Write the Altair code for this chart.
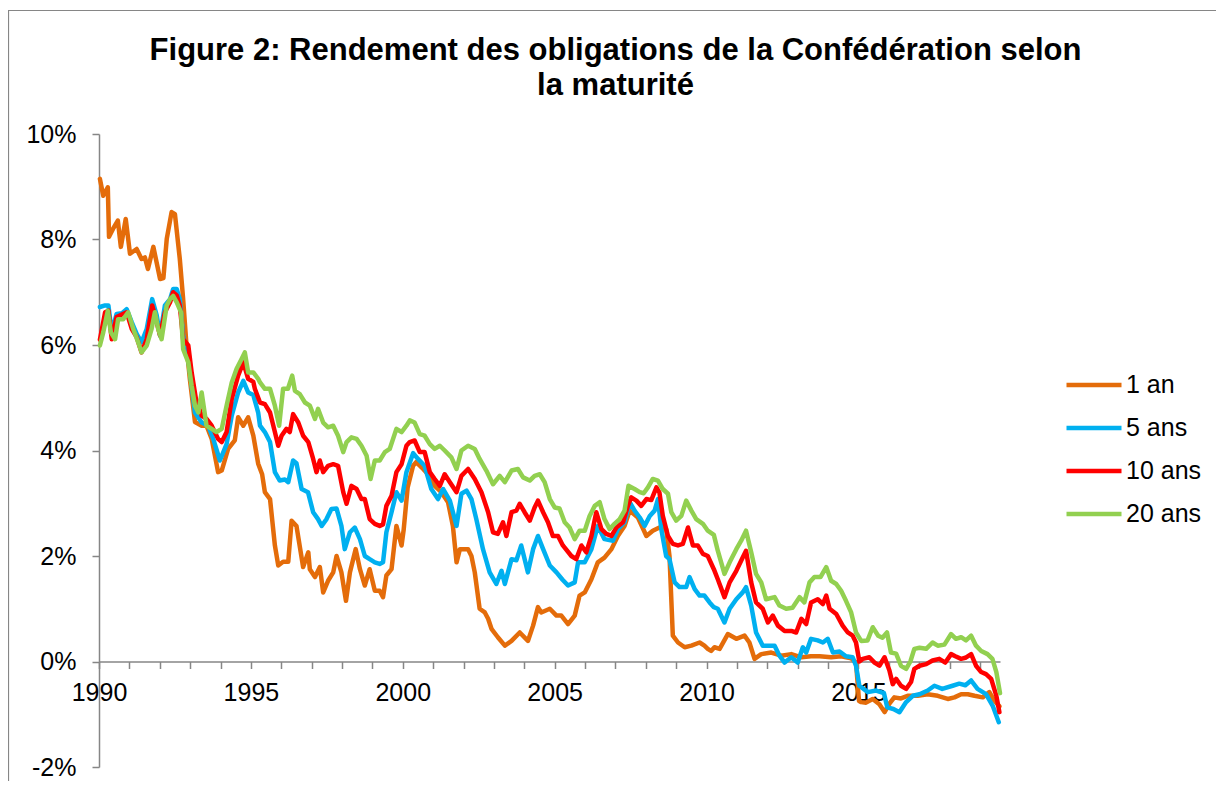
import altair as alt
import pandas as pd

# ---- data (decimal year, yield in %) ----
t_1an = [1990.03,1990.14,1990.29,1990.33,1990.46,1990.62,1990.72,1990.88,1991.02,1991.24,1991.40,1991.51,1991.61,1991.79,1992.01,1992.12,1992.23,1992.39,1992.50,1992.66,1992.77,1992.88,1992.99,1993.16,1993.38,1993.54,1993.71,1993.92,1994.04,1994.25,1994.47,1994.58,1994.75,1994.91,1995.08,1995.24,1995.37,1995.46,1995.63,1995.79,1995.90,1996.06,1996.23,1996.34,1996.50,1996.72,1996.89,1996.94,1997.11,1997.27,1997.38,1997.54,1997.71,1997.82,1997.98,1998.13,1998.26,1998.45,1998.59,1998.75,1998.91,1999.08,1999.24,1999.35,1999.46,1999.63,1999.79,1999.96,2000.03,2000.16,2000.34,2000.44,2000.67,2000.83,2001.05,2001.27,2001.49,2001.65,2001.77,2001.88,2002.15,2002.26,2002.37,2002.53,2002.70,2002.81,2002.92,2003.13,2003.36,2003.58,2003.85,2004.12,2004.29,2004.45,2004.56,2004.84,2005.06,2005.22,2005.44,2005.66,2005.82,2005.99,2006.21,2006.42,2006.64,2006.87,2007.08,2007.30,2007.47,2007.74,2008.02,2008.23,2008.45,2008.67,2008.78,2008.89,2009.06,2009.28,2009.50,2009.77,2009.93,2010.04,2010.15,2010.26,2010.43,2010.70,2010.98,2011.25,2011.41,2011.58,2011.80,2012.13,2012.46,2012.79,2013.12,2013.44,2013.72,2014.10,2014.43,2014.76,2014.92,2015.02,2015.09,2015.25,2015.47,2015.69,2015.86,2016.02,2016.18,2016.40,2016.62,2016.95,2017.28,2017.61,2017.94,2018.16,2018.38,2018.60,2018.82,2019.09,2019.31,2019.47,2019.64]
v_1an = [9.15,8.83,8.99,8.05,8.20,8.36,7.86,8.39,7.73,7.82,7.63,7.66,7.44,7.86,7.25,7.27,8.01,8.52,8.48,7.63,6.87,5.99,5.36,4.54,4.47,4.47,4.22,3.59,3.62,4.03,4.19,4.63,4.47,4.63,4.28,3.75,3.55,3.21,3.08,2.20,1.82,1.89,1.89,2.67,2.57,1.79,2.07,1.75,1.60,1.79,1.31,1.53,1.69,2.00,1.69,1.15,1.69,2.13,1.75,1.44,1.75,1.34,1.34,1.22,1.63,1.75,2.57,2.20,2.50,3.30,3.71,3.78,3.65,3.55,3.33,3.21,3.02,2.57,1.88,2.13,2.13,2.00,1.69,1.00,0.93,0.81,0.62,0.46,0.30,0.39,0.55,0.39,0.68,1.03,0.93,1.00,0.87,0.87,0.71,0.87,1.25,1.31,1.56,1.88,1.97,2.13,2.38,2.57,2.86,2.73,2.38,2.48,2.54,2.51,2.00,0.49,0.36,0.27,0.30,0.36,0.30,0.24,0.20,0.27,0.24,0.52,0.43,0.49,0.36,0.05,0.14,0.17,0.11,0.14,0.08,0.10,0.10,0.08,0.10,0.06,-0.02,-0.75,-0.77,-0.78,-0.71,-0.81,-0.96,-0.80,-0.68,-0.70,-0.65,-0.65,-0.62,-0.65,-0.71,-0.68,-0.62,-0.62,-0.65,-0.68,-0.58,-0.74,-0.85]

t_5ans = [1990.03,1990.20,1990.31,1990.42,1990.58,1990.75,1990.91,1991.08,1991.24,1991.40,1991.57,1991.75,1991.90,1992.01,1992.17,1992.34,1992.44,1992.56,1992.66,1992.77,1992.94,1993.05,1993.16,1993.38,1993.60,1993.76,1993.98,1994.20,1994.37,1994.58,1994.75,1994.91,1995.08,1995.24,1995.30,1995.46,1995.63,1995.79,1995.95,1996.12,1996.23,1996.39,1996.50,1996.67,1996.88,1997.05,1997.21,1997.33,1997.49,1997.65,1997.82,1997.98,1998.09,1998.26,1998.42,1998.59,1998.75,1998.91,1999.08,1999.24,1999.35,1999.46,1999.63,1999.79,1999.96,2000.12,2000.34,2000.50,2000.72,2000.94,2001.16,2001.33,2001.55,2001.77,2001.93,2002.10,2002.26,2002.42,2002.64,2002.86,2003.08,2003.25,2003.36,2003.58,2003.74,2003.90,2004.12,2004.29,2004.45,2004.62,2004.84,2005.06,2005.26,2005.44,2005.66,2005.77,2005.99,2006.21,2006.42,2006.64,2006.92,2007.08,2007.30,2007.47,2007.63,2007.80,2007.96,2008.13,2008.29,2008.40,2008.51,2008.67,2008.78,2008.95,2009.11,2009.33,2009.44,2009.61,2009.77,2009.93,2010.10,2010.24,2010.37,2010.59,2010.76,2010.98,2011.19,2011.30,2011.47,2011.63,2011.85,2012.07,2012.24,2012.40,2012.57,2012.79,2013.00,2013.17,2013.28,2013.44,2013.66,2013.83,2013.99,2014.16,2014.38,2014.59,2014.81,2014.92,2015.03,2015.31,2015.58,2015.84,2015.95,2016.15,2016.35,2016.57,2016.79,2017.01,2017.28,2017.50,2017.76,2018.10,2018.32,2018.52,2018.71,2018.92,2019.20,2019.42,2019.62]
v_5ans = [6.72,6.75,6.75,6.24,6.59,6.60,6.68,6.43,6.21,6.05,6.30,6.87,6.56,6.18,6.75,6.87,7.06,7.06,6.87,6.18,5.73,5.23,4.72,4.53,4.47,4.22,3.81,4.12,4.66,5.10,5.32,5.10,5.05,4.72,4.47,4.35,4.16,3.59,3.43,3.45,3.40,3.81,3.76,3.27,3.21,2.83,2.70,2.57,2.70,2.89,2.90,2.57,2.13,2.45,2.54,2.32,2.00,1.94,1.88,1.85,1.88,2.45,2.83,3.21,3.05,3.59,3.95,3.84,3.71,3.27,3.08,3.27,3.05,2.57,3.18,3.24,3.08,2.70,2.13,1.69,1.47,1.72,1.47,1.94,1.92,2.20,1.69,2.13,2.38,2.13,1.82,1.69,1.55,1.44,1.50,1.88,1.88,2.13,2.57,2.32,2.29,2.51,2.64,3.02,2.86,2.73,2.57,2.76,2.86,3.08,2.51,2.00,1.94,1.50,1.41,1.41,1.60,1.37,1.25,1.25,1.12,1.03,1.00,0.74,1.00,1.18,1.31,1.41,1.06,0.55,0.30,0.30,0.30,0.11,-0.02,0.08,-0.02,0.27,0.17,0.43,0.40,0.36,0.43,0.17,0.19,0.10,0.08,-0.08,-0.46,-0.58,-0.55,-0.60,-0.87,-0.90,-0.96,-0.77,-0.65,-0.62,-0.55,-0.46,-0.52,-0.46,-0.42,-0.45,-0.36,-0.52,-0.62,-0.84,-1.15]

t_10ans = [1990.03,1990.20,1990.31,1990.42,1990.58,1990.91,1991.08,1991.24,1991.40,1991.57,1991.75,1991.90,1992.01,1992.17,1992.34,1992.44,1992.56,1992.66,1992.77,1992.94,1993.05,1993.19,1993.38,1993.54,1993.71,1993.92,1994.04,1994.20,1994.37,1994.58,1994.75,1994.91,1995.08,1995.13,1995.30,1995.46,1995.63,1995.79,1995.90,1996.01,1996.17,1996.28,1996.39,1996.56,1996.72,1996.89,1997.05,1997.16,1997.27,1997.38,1997.54,1997.71,1997.87,1998.04,1998.15,1998.31,1998.48,1998.64,1998.75,1998.91,1999.08,1999.24,1999.35,1999.46,1999.63,1999.79,1999.96,2000.12,2000.23,2000.39,2000.56,2000.72,2000.89,2001.05,2001.22,2001.38,2001.55,2001.77,2001.93,2002.15,2002.37,2002.59,2002.81,2002.97,2003.13,2003.30,2003.41,2003.58,2003.74,2003.85,2004.01,2004.18,2004.34,2004.45,2004.62,2004.78,2004.94,2005.11,2005.27,2005.55,2005.71,2005.88,2006.04,2006.21,2006.37,2006.54,2006.70,2006.87,2007.03,2007.25,2007.41,2007.52,2007.69,2007.85,2008.02,2008.18,2008.35,2008.45,2008.56,2008.73,2008.89,2009.06,2009.22,2009.39,2009.55,2009.71,2009.88,2010.04,2010.24,2010.37,2010.59,2010.76,2010.98,2011.19,2011.30,2011.47,2011.63,2011.85,2012.02,2012.18,2012.35,2012.57,2012.79,2012.95,2013.12,2013.28,2013.44,2013.66,2013.83,2013.94,2014.05,2014.27,2014.48,2014.65,2014.81,2014.92,2015.03,2015.14,2015.36,2015.53,2015.69,2015.86,2016.02,2016.13,2016.24,2016.40,2016.57,2016.73,2016.84,2017.01,2017.23,2017.44,2017.66,2017.86,2018.05,2018.19,2018.38,2018.52,2018.71,2018.87,2019.04,2019.20,2019.37,2019.54,2019.64]
v_10ans = [6.10,6.62,6.65,6.11,6.53,6.62,6.30,6.15,5.86,6.11,6.75,6.43,6.18,6.62,6.81,7.00,6.94,6.75,6.11,5.99,5.48,4.98,4.66,4.60,4.47,4.22,4.16,4.35,4.98,5.42,5.67,5.36,5.30,5.17,4.91,4.88,4.72,4.35,4.09,4.28,4.41,4.35,4.69,4.53,4.28,4.16,3.84,3.59,3.81,3.59,3.71,3.74,3.71,3.21,2.99,3.33,3.27,3.08,3.08,2.70,2.61,2.57,2.60,2.95,3.14,3.59,3.74,4.09,4.16,4.19,3.97,3.97,3.59,3.46,3.33,3.55,3.40,3.21,3.52,3.65,3.46,3.21,2.83,2.45,2.42,2.64,2.38,2.83,2.86,2.99,2.83,2.67,2.92,3.05,2.83,2.64,2.38,2.38,2.20,2.00,1.94,2.20,2.07,2.38,2.83,2.51,2.42,2.38,2.54,2.64,2.95,3.11,3.05,2.95,3.08,3.06,3.30,3.20,2.76,2.38,2.23,2.20,2.23,2.54,2.20,2.20,2.04,2.00,1.75,1.56,1.22,1.50,1.72,1.97,2.10,1.50,1.12,1.00,0.74,0.87,0.68,0.58,0.58,0.55,0.81,0.71,1.12,1.18,1.09,1.25,1.00,0.90,0.68,0.55,0.49,0.36,0.00,0.05,0.08,-0.02,-0.08,0.08,-0.17,-0.43,-0.33,-0.46,-0.52,-0.39,-0.14,-0.08,-0.05,0.02,0.05,-0.02,0.14,0.10,0.05,0.07,0.14,-0.08,-0.20,-0.24,-0.33,-0.65,-0.96]

t_20ans = [1990.03,1990.14,1990.29,1990.39,1990.53,1990.63,1990.80,1990.96,1991.13,1991.29,1991.40,1991.57,1991.73,1991.84,1991.95,1992.06,1992.23,1992.34,1992.44,1992.56,1992.70,1992.77,1992.94,1993.05,1993.16,1993.27,1993.38,1993.54,1993.71,1993.87,1994.04,1994.20,1994.37,1994.53,1994.69,1994.80,1994.91,1995.08,1995.24,1995.30,1995.46,1995.63,1995.79,1995.93,1996.06,1996.22,1996.36,1996.45,1996.61,1996.78,1996.94,1997.11,1997.21,1997.38,1997.54,1997.71,1997.87,1998.04,1998.15,1998.31,1998.48,1998.64,1998.81,1998.94,1999.08,1999.24,1999.41,1999.57,1999.79,1999.96,2000.12,2000.23,2000.39,2000.56,2000.72,2000.89,2001.05,2001.22,2001.38,2001.60,2001.77,2001.93,2002.15,2002.37,2002.53,2002.75,2002.97,2003.19,2003.36,2003.58,2003.79,2003.96,2004.18,2004.34,2004.51,2004.67,2004.84,2005.00,2005.16,2005.33,2005.49,2005.66,2005.82,2005.99,2006.15,2006.32,2006.48,2006.64,2006.81,2006.97,2007.14,2007.30,2007.43,2007.63,2007.80,2007.93,2008.07,2008.23,2008.40,2008.56,2008.73,2008.84,2009.00,2009.17,2009.33,2009.50,2009.66,2009.88,2010.04,2010.24,2010.37,2010.59,2010.76,2010.98,2011.14,2011.30,2011.47,2011.63,2011.80,2011.96,2012.24,2012.40,2012.62,2012.83,2013.06,2013.22,2013.39,2013.55,2013.75,2013.94,2014.10,2014.27,2014.43,2014.59,2014.76,2014.92,2015.09,2015.30,2015.47,2015.65,2015.79,2015.94,2016.07,2016.24,2016.40,2016.57,2016.71,2016.84,2017.01,2017.23,2017.44,2017.61,2017.83,2018.05,2018.21,2018.38,2018.54,2018.71,2018.87,2019.04,2019.25,2019.41,2019.54,2019.66]
v_20ans = [5.99,6.24,6.65,6.24,6.11,6.49,6.49,6.62,6.30,6.05,5.86,5.99,6.30,6.62,6.30,6.11,6.75,6.87,6.93,6.81,6.62,5.92,5.67,5.23,4.85,4.72,5.10,4.47,4.41,4.35,4.41,4.85,5.29,5.55,5.73,5.86,5.48,5.48,5.36,5.29,5.17,5.17,4.85,4.47,5.17,5.17,5.42,5.13,5.07,4.91,4.85,4.60,4.79,4.53,4.44,4.47,4.28,3.97,4.16,4.25,4.22,4.09,3.90,3.46,3.81,3.81,3.97,4.03,4.41,4.35,4.47,4.57,4.53,4.31,4.28,4.12,4.03,4.09,4.00,3.87,3.65,4.00,4.09,4.03,3.84,3.62,3.36,3.52,3.40,3.62,3.65,3.49,3.43,3.52,3.55,3.40,3.08,2.92,2.90,2.64,2.54,2.32,2.48,2.48,2.76,2.95,3.02,2.70,2.51,2.61,2.70,2.86,3.33,3.27,3.21,3.19,3.30,3.46,3.43,3.27,3.18,2.83,2.67,2.76,3.05,2.86,2.70,2.61,2.48,2.40,2.10,1.66,1.88,2.13,2.29,2.48,2.07,1.66,1.50,1.18,1.22,1.06,1.00,1.02,1.22,1.12,1.50,1.60,1.60,1.79,1.53,1.47,1.34,1.15,0.93,0.55,0.39,0.40,0.65,0.49,0.45,0.55,0.17,0.15,-0.08,-0.14,0.00,0.24,0.26,0.24,0.36,0.30,0.32,0.52,0.43,0.46,0.40,0.49,0.30,0.20,0.14,0.05,-0.20,-0.60]

series_names = ["1 an", "5 ans", "10 ans", "20 ans"]
series_colors = ["#E46C0A", "#00B0F0", "#FF0000", "#92D050"]
y_ticks = [-2, 0, 2, 4, 6, 8, 10]
x_ticks = list(range(1990, 2020))

frames = []
for i, (name, t, v) in enumerate(zip(series_names, [t_1an, t_5ans, t_10ans, t_20ans], [v_1an, v_5ans, v_10ans, v_20ans])):
    frames.append(pd.DataFrame({"annee": t, "rendement": v, "serie": name, "ordre": i}))
df = pd.concat(frames, ignore_index=True)

FONT = "Liberation Sans"
W, H = 901, 633

color_scale = alt.Scale(domain=series_names, range=series_colors)

lines = alt.Chart(df).mark_line(strokeWidth=4.5, strokeCap="round", strokeJoin="round").encode(
    x=alt.X("annee:Q",
            scale=alt.Scale(domain=[1990, 2019.66], nice=False, zero=False),
            axis=alt.Axis(values=x_ticks, format="d",
                          labelExpr="datum.value % 5 == 0 ? datum.label : ''",
                          labelOverlap=False, labelFlush=False,
                          offset=-105.5, grid=False, title=None,
                          domainColor="#868686", domainWidth=1.5,
                          tickColor="#868686", tickWidth=1.5, tickSize=7,
                          labelFont=FONT, labelFontSize=25, labelColor="#000000",
                          labelPadding=12)),
    y=alt.Y("rendement:Q",
            scale=alt.Scale(domain=[-2, 10], nice=False, zero=False),
            axis=alt.Axis(values=y_ticks, labelExpr="datum.value + '%'",
                          grid=False, title=None,
                          domainColor="#868686", domainWidth=1.5,
                          tickColor="#868686", tickWidth=1.5, tickSize=7,
                          labelFont=FONT, labelFontSize=25, labelColor="#000000",
                          labelPadding=16)),
    color=alt.Color("serie:N", scale=color_scale, sort=series_names,
                    legend=alt.Legend(title=None, orient="none", legendX=965, legendY=221,
                                      symbolType="stroke", symbolSize=3025, symbolStrokeWidth=4.5,
                                      labelFont=FONT, labelFontSize=25, labelColor="#000000",
                                      labelOffset=2, rowPadding=-9)),
    detail="ordre:O",
    order="ordre:O",
)

frame = alt.Chart(pd.DataFrame({"k": [0]})).mark_rect(fill=None, stroke="#868686", strokeWidth=1.2, clip=False).encode(
    x=alt.value(-90.5), x2=alt.value(1200), y=alt.value(-123.5), y2=alt.value(700)
)

chart = alt.layer(frame, lines).properties(
    width=W, height=H,
    title=alt.TitleParams(
        text=["Figure 2: Rendement des obligations de la Confédération selon", "la maturité"],
        font=FONT, fontSize=31, fontWeight="bold", color="#000000",
        anchor="middle", frame="group", dx=66, offset=-116, baseline="alphabetic", lineHeight=35,
    ),
    padding={"left": 91, "top": 126, "right": 216, "bottom": 14},
    autosize=alt.AutoSizeParams(type="none"),
).configure_view(strokeWidth=0, stroke="transparent")

chart.save("out.html", embed_options={"renderer": "svg", "actions": False})
